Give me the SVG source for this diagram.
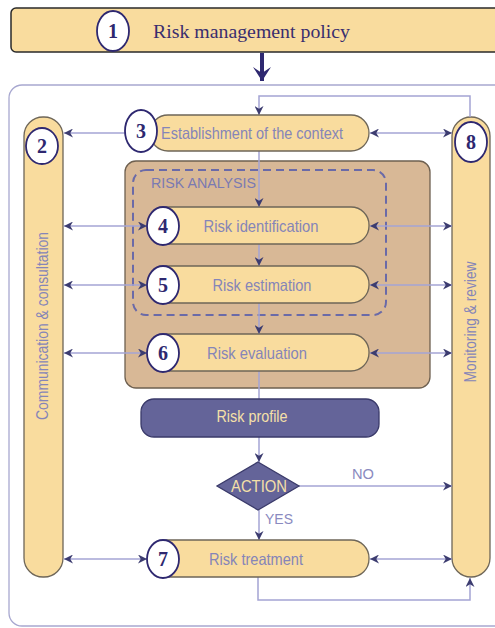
<svg xmlns="http://www.w3.org/2000/svg" width="495" height="628" viewBox="0 0 495 628">
<defs>
<marker id="ah" viewBox="0 0 10 10" refX="10" refY="5" markerWidth="10" markerHeight="9" markerUnits="userSpaceOnUse" orient="auto-start-reverse">
<path d="M0,0 L10,5 L0,10 L3,5 Z" fill="#3c3c70"/>
</marker>
<marker id="big" viewBox="0 0 20 16" refX="10" refY="15" markerWidth="20" markerHeight="16" markerUnits="userSpaceOnUse" orient="0">
<path d="M1,1 L10,15 L19,1 L10,7 Z" fill="#2e2870"/>
</marker>
</defs>
<style>
.pill{fill:#f9dc9e;stroke:#6e6658;stroke-width:1.3}
.num{fill:#fff;stroke:#2e2870;stroke-width:1.8}
.numt{font-family:"Liberation Serif",serif;font-weight:bold;font-size:20px;fill:#2e2870;text-anchor:middle}
.lbl{font-family:"Liberation Sans",Arial,sans-serif;font-size:16.5px;fill:#8585b8;text-anchor:middle}
.con{fill:none;stroke:#a4a4d4;stroke-width:1.5}
.dark{fill:#646499;stroke:#3a3a6a;stroke-width:1.3}
.light{font-family:"Liberation Sans",Arial,sans-serif;font-size:16.5px;fill:#f5e0a8;text-anchor:middle}
</style>
<rect width="495" height="628" fill="#fff"/>

<g id="container">
<rect x="9" y="85" width="500" height="541" rx="13" fill="none" stroke="#a8a8d0" stroke-width="1.3"/>
</g>

<g id="n1">
<rect x="11" y="8" width="495" height="44" rx="5" fill="#f9dc9e" stroke="#2a2a2a" stroke-width="1.5"/>
<ellipse class="num" cx="113" cy="31" rx="16" ry="20"/>
<text class="numt" x="113" y="38">1</text>
<text x="153" y="38" font-family="'Liberation Serif',serif" font-size="18" fill="#3a2e6e" textLength="197" lengthAdjust="spacingAndGlyphs">Risk management policy</text>
</g>

<g id="n2">
<rect class="pill" x="24" y="117" width="39" height="460" rx="19"/>
<ellipse class="num" cx="42" cy="146" rx="16" ry="18"/>
<text class="numt" x="42" y="153">2</text>
<text class="lbl" transform="translate(48,326) rotate(-90)" font-size="16" textLength="188" lengthAdjust="spacingAndGlyphs">Communication &amp; consultation</text>
</g>

<g id="n8">
<rect class="pill" x="452" y="117" width="38" height="460" rx="19"/>
<ellipse class="num" cx="471" cy="142" rx="16" ry="20"/>
<text class="numt" x="471" y="149">8</text>
<text class="lbl" transform="translate(476,322) rotate(-90)" font-size="16" textLength="121" lengthAdjust="spacingAndGlyphs">Monitoring &amp; review</text>
</g>

<g id="analysis-box">
<rect x="125" y="161" width="305" height="227" rx="11" fill="#d8b896" stroke="#6e6050" stroke-width="1.3"/>
<rect x="133" y="170" width="253" height="145" rx="13" fill="none" stroke="#6a6aa8" stroke-width="2" stroke-dasharray="8,5"/>
<text x="151" y="188" font-family="'Liberation Sans',Arial,sans-serif" font-size="14" fill="#7a7ab2" textLength="105" lengthAdjust="spacingAndGlyphs">RISK ANALYSIS</text>
</g>

<g id="connectors">
<path class="con" d="M470,117 V96 H259 V115" marker-end="url(#ah)"/>
<path class="con" d="M259,151 V207" marker-end="url(#ah)"/>
<path class="con" d="M259,244 V266" marker-end="url(#ah)"/>
<path class="con" d="M259,303 V334" marker-end="url(#ah)"/>
<path class="con" d="M259,371 V399"/>
<path class="con" d="M259,437 V462" marker-end="url(#ah)"/>
<path class="con" d="M259,510 V540" marker-end="url(#ah)"/>
<path class="con" d="M299,486 H452" marker-end="url(#ah)"/>
<path class="con" d="M258,577 V600 H470 V578" marker-end="url(#ah)"/>
<path class="con" d="M125,133 H64" marker-end="url(#ah)"/>
<path class="con" d="M370,133 H452" marker-start="url(#ah)" marker-end="url(#ah)"/>
<path class="con" d="M64,226 H147" marker-start="url(#ah)" marker-end="url(#ah)"/>
<path class="con" d="M370,226 H452" marker-start="url(#ah)" marker-end="url(#ah)"/>
<path class="con" d="M64,285 H147" marker-start="url(#ah)" marker-end="url(#ah)"/>
<path class="con" d="M370,285 H452" marker-start="url(#ah)" marker-end="url(#ah)"/>
<path class="con" d="M64,353 H147" marker-start="url(#ah)" marker-end="url(#ah)"/>
<path class="con" d="M370,353 H452" marker-start="url(#ah)" marker-end="url(#ah)"/>
<path class="con" d="M64,559 H147" marker-start="url(#ah)" marker-end="url(#ah)"/>
<path class="con" d="M370,559 H452" marker-start="url(#ah)" marker-end="url(#ah)"/>
<path d="M262,53 V81" stroke="#2e2870" stroke-width="4" fill="none" marker-end="url(#big)"/>
<text x="352" y="479" font-family="'Liberation Sans',Arial,sans-serif" font-size="15" fill="#8a8ac0" textLength="22" lengthAdjust="spacingAndGlyphs">NO</text>
<text x="265" y="524" font-family="'Liberation Sans',Arial,sans-serif" font-size="15" fill="#8a8ac0" textLength="28" lengthAdjust="spacingAndGlyphs">YES</text>
</g>

<g id="n3">
<rect class="pill" x="150" y="115" width="219" height="36" rx="18"/>
<ellipse class="num" cx="141" cy="131" rx="16" ry="21"/>
<text class="numt" x="141" y="138">3</text>
<text class="lbl" x="252" y="139" textLength="182" lengthAdjust="spacingAndGlyphs">Establishment of the context</text>
</g>

<g id="n4">
<rect class="pill" x="150" y="207" width="219" height="37" rx="18"/>
<ellipse class="num" cx="163" cy="226" rx="16" ry="19"/>
<text class="numt" x="163" y="233">4</text>
<text class="lbl" x="261" y="232" textLength="115" lengthAdjust="spacingAndGlyphs">Risk identification</text>
</g>

<g id="n5">
<rect class="pill" x="150" y="266" width="219" height="37" rx="18"/>
<ellipse class="num" cx="163" cy="285" rx="16" ry="19"/>
<text class="numt" x="163" y="292">5</text>
<text class="lbl" x="262" y="291" textLength="99" lengthAdjust="spacingAndGlyphs">Risk estimation</text>
</g>

<g id="n6">
<rect class="pill" x="150" y="334" width="219" height="37" rx="18"/>
<ellipse class="num" cx="163" cy="353" rx="16" ry="19"/>
<text class="numt" x="163" y="360">6</text>
<text class="lbl" x="257" y="359" textLength="100" lengthAdjust="spacingAndGlyphs">Risk evaluation</text>
</g>

<g id="profile">
<rect class="dark" x="141" y="399" width="238" height="38" rx="13"/>
<text class="light" x="252" y="422" textLength="71" lengthAdjust="spacingAndGlyphs">Risk profile</text>
</g>

<g id="action">
<path class="dark" d="M258,462 L299,486 L258,510 L217,486 Z" stroke="none"/>
<text class="light" x="259" y="492" textLength="56" lengthAdjust="spacingAndGlyphs">ACTION</text>
</g>

<g id="n7">
<rect class="pill" x="150" y="540" width="219" height="37" rx="18"/>
<ellipse class="num" cx="163" cy="559" rx="16" ry="19"/>
<text class="numt" x="163" y="566">7</text>
<text class="lbl" x="256" y="565" textLength="94" lengthAdjust="spacingAndGlyphs">Risk treatment</text>
</g>
</svg>
